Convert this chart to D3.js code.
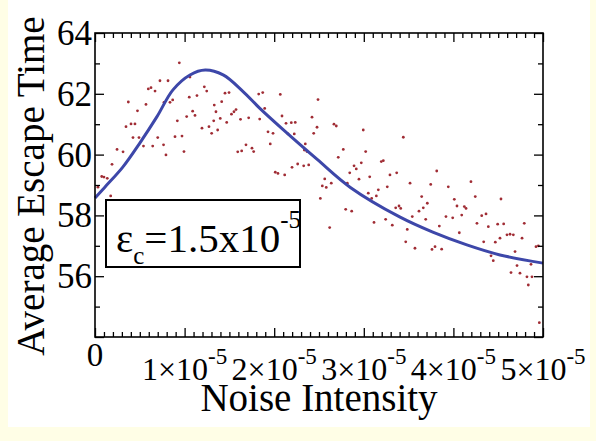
<!DOCTYPE html>
<html>
<head>
<meta charset="utf-8">
<script src="https://d3js.org/d3.v7.min.js"></script>
<style>
  html, body { margin: 0; padding: 0; background: #fffee6; }
  svg { display: block; }
</style>
</head>
<body>
<svg id="chart"></svg>
<script>
// Chart size
const width = 596;
const height = 441;

// Noise intensity is stored in units of 1e-5
const scatterNoise = [
  0.033, 0.075, 0.100, 0.137, 0.175, 0.212, 0.190, 0.246, 0.313, 0.346, 0.402, 0.446,
  0.372, 0.424, 0.491, 0.474, 0.541, 0.569, 0.595, 0.625, 0.670, 0.644, 0.700, 0.725,
  0.815, 0.765, 0.792, 0.770, 0.837, 0.867, 0.919, 0.893, 0.971, 0.941, 0.993, 1.052,
  1.060, 1.138, 1.023, 1.116, 1.090, 1.194, 1.220, 1.247,
  1.272, 1.302, 1.369, 1.325, 1.331, 1.350, 1.398, 1.414, 1.451, 1.496, 1.470, 1.523,
  1.551, 1.574, 1.624, 1.715, 1.593, 1.637, 1.685, 1.752, 1.771, 1.827, 1.872, 1.894,
  1.838, 1.931, 1.987, 1.956, 2.012, 2.042, 2.068, 2.087, 2.132, 2.154, 2.191, 2.224,
  2.235, 2.117, 2.199, 2.262, 2.329, 2.385, 2.347, 2.336, 2.366, 2.422, 2.478, 2.441,
  2.489, 2.515,
  2.564, 2.537, 2.581, 2.637, 2.619, 2.667, 2.693, 2.715, 2.771, 2.798, 2.816, 2.843,
  2.865, 2.891, 2.916, 2.972, 2.946, 2.994, 3.021, 3.050, 3.088, 3.066, 3.140, 3.114,
  3.162, 3.195, 3.218, 3.262, 3.244, 3.292, 3.318, 3.367, 3.356, 3.393, 3.412, 3.441,
  3.468, 3.485, 3.516, 3.541, 3.571, 3.616, 3.646, 3.664, 3.691, 3.709, 3.747,
  3.761, 3.795, 3.814, 3.843, 3.869, 3.917, 3.943, 3.992, 4.010, 4.040, 4.066, 4.093,
  4.122, 4.141, 4.196, 4.244, 4.263, 4.316, 4.338, 4.364, 4.390, 4.420, 4.445, 4.468,
  4.494, 4.520, 4.531, 4.561, 4.598, 4.632, 4.643, 4.669, 4.688, 4.710, 4.743, 4.766,
  4.791, 4.821, 4.836, 4.866, 4.877, 4.922, 4.948, 4.959
];
const scatterTime = [
  58.93, 59.28, 59.26, 59.22, 58.64, 58.40, 59.68, 60.17, 60.09, 60.92, 61.01, 61.01,
  61.73, 60.56, 60.56, 61.44, 60.28, 61.65, 62.16, 62.20, 62.09, 60.28, 60.56, 62.43,
  62.43, 60.32, 59.99, 61.72, 61.72, 61.80, 61.11, 60.59, 60.61, 63.02, 60.10, 61.89,
  62.55, 61.94, 61.25, 61.29, 61.43, 60.87, 62.23, 62.09,
  60.92, 60.70, 60.81, 61.11, 61.63, 61.41, 61.19, 61.74, 62.02, 62.04, 61.06, 61.33,
  61.41, 61.48, 61.16, 61.21, 60.09, 60.12, 60.32, 60.21, 60.10, 61.99, 62.04, 61.52,
  61.17, 60.75, 60.70, 60.35, 59.42, 59.38, 61.98, 61.27, 61.03, 60.68, 61.05, 60.68,
  61.06, 59.33, 59.58, 59.69, 59.63, 59.66, 60.35, 60.15, 60.10, 61.23, 60.90, 60.70,
  61.81, 58.56,
  59.20, 58.97, 58.92, 59.06, 57.60, 61.00, 60.94, 59.91, 60.17, 58.20, 59.06, 59.40,
  58.14, 59.63, 59.53, 59.73, 59.19, 60.81, 60.10, 58.73, 58.56, 59.27, 58.64, 57.77,
  58.84, 59.77, 59.80, 58.94, 57.87, 59.33, 57.68, 59.40, 58.25, 58.31, 58.23, 60.57,
  57.13, 57.54, 59.06, 57.96, 56.92, 58.14, 58.62, 58.25, 57.87, 58.40, 59.02,
  56.88, 56.97, 59.46, 57.65, 56.89, 57.96, 58.94, 57.92, 58.53, 58.31, 57.43, 58.01,
  58.29, 58.23, 59.11, 58.62, 57.74, 57.99, 57.13, 58.05, 57.63, 56.67, 56.51, 57.12,
  57.71, 57.25, 58.54, 57.72, 57.36, 57.38, 56.12, 57.36, 56.81, 56.35, 56.10, 57.25,
  57.74, 55.98, 55.71, 56.39, 55.98, 56.97, 57.00, 54.47
];

// Fitted curve
const fitNoise = [0, 0.11, 0.31, 0.50, 0.69, 0.87, 1.06, 1.23, 1.43, 1.65, 1.84, 2.10, 2.48, 2.85, 3.40, 3.77, 4.15, 4.52, 5.0];
const fitTime = [58.57, 58.93, 59.59, 60.38, 61.24, 62.13, 62.62, 62.78, 62.62, 62.08, 61.52, 60.82, 59.84, 58.92, 57.95, 57.45, 57.03, 56.70, 56.43];

// Tick values
const xMajor = [0, 1, 2, 3, 4, 5];
const xMinor = d3.range(0, 50.5, 1).map(d => d / 10).filter(d => Math.abs(d - Math.round(d)) > 1e-6);
const yMajor = [54, 56, 58, 60, 62, 64];
const yMinor = [55, 57, 59, 61, 63];
const yLabels = [56, 58, 60, 62, 64];

const legendText = { symbol: "ε", sub: "c", value: "=1.5x10", sup: "-5" };

const margin = { left: 95, right: 53, top: 33, bottom: 104 };
const plotW = width - margin.left - margin.right;
const plotH = height - margin.top - margin.bottom;

const svg = d3.select("#chart")
    .attr("width", width)
    .attr("height", height)
    .style("font-family", "'Liberation Serif', 'Times New Roman', serif");

// yellow page with white panel
svg.append("rect").attr("width", width).attr("height", height).attr("fill", "#fffee6");
svg.append("rect").attr("x", 8).attr("y", 0).attr("width", 582).attr("height", 427).attr("fill", "#ffffff");

const x = d3.scaleLinear().domain([0, 5]).range([margin.left, margin.left + plotW]);
const y = d3.scaleLinear().domain([54, 64]).range([margin.top + plotH, margin.top]);

// Scatter points
svg.append("g")
    .selectAll("circle")
    .data(scatterNoise.map((n, i) => [n, scatterTime[i]]))
    .enter().append("circle")
    .attr("cx", d => x(d[0]))
    .attr("cy", d => y(d[1]))
    .attr("r", 1.4)
    .attr("fill", "#a02c34");

// Fit line
svg.append("path")
    .datum(fitNoise.map((n, i) => [n, fitTime[i]]))
    .attr("fill", "none")
    .attr("stroke", "#3d47a9")
    .attr("stroke-width", 3)
    .attr("d", d3.line().x(d => x(d[0])).y(d => y(d[1])).curve(d3.curveCatmullRom));

// Axes: all ticks point inward
function styleAxis(g) {
    g.select(".domain").remove();
    g.selectAll(".tick line").attr("stroke", "#000").attr("stroke-width", 1.3);
}
const axes = [
    [d3.axisBottom(x), xMajor, xMinor, `translate(0,${margin.top + plotH})`],
    [d3.axisTop(x), xMajor, xMinor, `translate(0,${margin.top})`],
    [d3.axisLeft(y), yMajor, yMinor, `translate(${margin.left},0)`],
    [d3.axisRight(y), yMajor, yMinor, `translate(${margin.left + plotW},0)`]
];
axes.forEach(([axis, major, minor, tr]) => {
    svg.append("g").attr("transform", tr)
        .call(axis.tickValues(major).tickSize(-9).tickFormat(""))
        .call(styleAxis);
    svg.append("g").attr("transform", tr)
        .call(axis.tickValues(minor).tickSize(-5).tickFormat(""))
        .call(styleAxis);
});

// Frame
svg.append("rect")
    .attr("x", margin.left).attr("y", margin.top)
    .attr("width", plotW).attr("height", plotH)
    .attr("fill", "none").attr("stroke", "#000").attr("stroke-width", 1.6);

// Y tick labels
svg.append("g").selectAll("text")
    .data(yLabels)
    .enter().append("text")
    .attr("x", margin.left - 3)
    .attr("y", d => y(d) + 12)
    .attr("text-anchor", "end")
    .style("font-size", "35px")
    .text(d => d);

// X tick labels
const xl = svg.append("g");
xMajor.forEach(v => {
    if (v === 0) {
        xl.append("text").attr("x", x(v)).attr("y", 366)
            .attr("text-anchor", "middle").style("font-size", "33px").text("0");
    } else {
        const t = xl.append("text").attr("x", x(v)).attr("y", 380)
            .attr("text-anchor", "middle").style("font-size", "32px");
        t.append("tspan").text(v + "×10");
        t.append("tspan").attr("dy", -16).style("font-size", "23px").text("-5");
    }
});

// Axis titles
svg.append("text")
    .attr("x", 319).attr("y", 411)
    .attr("text-anchor", "middle")
    .style("font-size", "39px")
    .text("Noise Intensity");

svg.append("text")
    .attr("transform", "translate(44,186) rotate(-90)")
    .attr("text-anchor", "middle")
    .style("font-size", "39px")
    .text("Average Escape Time");

// Legend box
svg.append("rect")
    .attr("x", 106).attr("y", 200).attr("width", 194).attr("height", 67)
    .attr("fill", "#fff").attr("stroke", "#000").attr("stroke-width", 2);
const lt = svg.append("text").attr("x", 116).attr("y", 252).style("font-size", "41px");
lt.append("tspan").text(legendText.symbol);
lt.append("tspan").attr("dy", 12).style("font-size", "25px").text(legendText.sub);
lt.append("tspan").attr("dy", -12).text(legendText.value);
lt.append("tspan").attr("dy", -24).style("font-size", "25px").text(legendText.sup);
</script>
</body>
</html>
